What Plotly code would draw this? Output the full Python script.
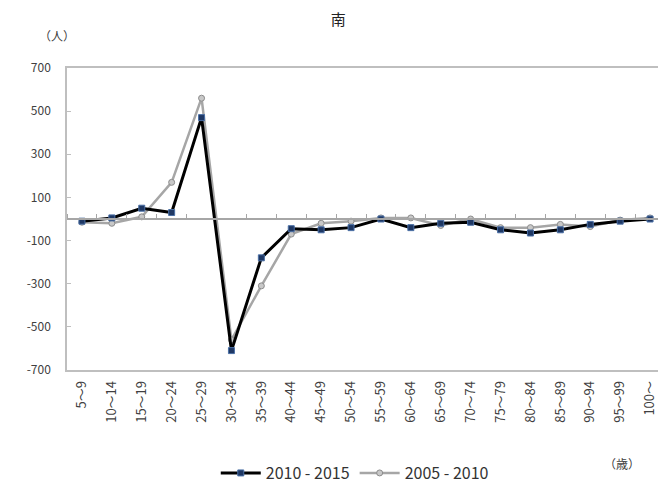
import plotly.graph_objects as go

categories = ["5～9", "10～14", "15～19", "20～24", "25～29", "30～34", "35～39",
              "40～44", "45～49", "50～54", "55～59", "60～64", "65～69", "70～74",
              "75～79", "80～84", "85～89", "90～94", "95～99", "100～"]
s2010_2015 = [-10, 5, 50, 30, 470, -610, -180, -45, -50, -40, 0, -40, -20, -15,
              -50, -65, -50, -25, -10, 0]
s2005_2010 = [-15, -20, 10, 170, 560, -560, -310, -70, -20, -10, 5, 5, -30, 0,
              -40, -40, -25, -35, -5, 5]
ytick_vals = [700, 500, 300, 100, -100, -300, -500, -700]
ytick_text = ["700", "500", "300", "100", "-100", "-300", "-500", "-700"]

FONT = "Noto Sans CJK JP"
fig = go.Figure()
fig.add_trace(go.Scatter(
    x=categories, y=s2005_2010, name="2005 - 2010", mode="lines+markers",
    line=dict(color="#a6a6a6", width=2.5),
    marker=dict(symbol="circle", size=6, color="#c8c8c8",
                line=dict(color="#8c8c8c", width=1))))
fig.add_trace(go.Scatter(
    x=categories, y=s2010_2015, name="2010 - 2015", mode="lines+markers",
    line=dict(color="#000000", width=3),
    marker=dict(symbol="square", size=6, color="#1f3864",
                line=dict(color="#4a6fa5", width=1))))

fig.update_layout(
    width=658, height=475,
    margin=dict(l=59, r=1, t=60, b=113, autoexpand=False),
    paper_bgcolor="white", plot_bgcolor="white",
    font=dict(family=FONT, size=11, color="#404040"),
    title=dict(text="南", x=0.502, xanchor="center", y=0.975, yref="container",
               yanchor="middle", font=dict(family=FONT, size=15, color="#222")),
    showlegend=True,
    legend=dict(orientation="h", x=0.527, xanchor="center", xref="container",
                y=0.021, yref="container", yanchor="middle",
                traceorder="reversed", font=dict(size=16, color="#333"),
                itemwidth=40),
    xaxis=dict(type="category", categoryarray=categories, range=[-0.5, 19.5],
               tickangle=-90, showgrid=False, showline=True, linecolor="#bfbfbf",
               linewidth=1.5, mirror=True, ticks="", tickfont=dict(size=13),
               automargin=False, ticklabelstandoff=4),
    xaxis2=dict(type="category", categoryarray=categories, range=[-0.5, 19.5],
                overlaying="x", anchor="free", position=0.5, side="top",
                showline=True, linecolor="#a6a6a6", linewidth=1.5,
                ticks="outside", ticklen=4, tickcolor="#a6a6a6",
                tickson="boundaries", showticklabels=False, showgrid=False,
                automargin=False),
    yaxis=dict(range=[-700, 700], tickvals=ytick_vals, ticktext=ytick_text,
               showgrid=False, zeroline=False, showline=True, linecolor="#bfbfbf",
               linewidth=1.5, mirror=True, ticks="inside", ticklen=4,
               tickcolor="#bfbfbf", ticklabelstandoff=12,
               tickfont=dict(size=12), automargin=False),
)
# invisible trace to anchor xaxis2
fig.add_trace(go.Scatter(x=categories, y=[0]*len(categories), xaxis="x2",
                         mode="lines", line=dict(width=0), showlegend=False,
                         hoverinfo="skip"))
fig.add_annotation(text="（人）", xref="paper", yref="paper", x=-0.05, y=1.142,
                   showarrow=False, font=dict(size=12, color="#404040"))
fig.add_annotation(text="（歳）", xref="paper", yref="paper", x=0.962, y=-0.345,
                   showarrow=False, font=dict(size=12, color="#404040"))
fig.write_html("out.html")
